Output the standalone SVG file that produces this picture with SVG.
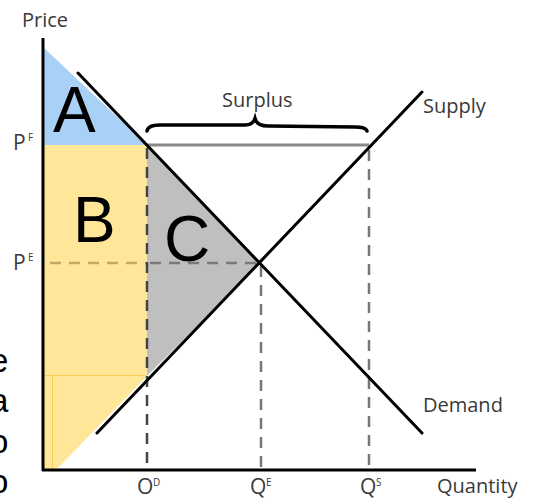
<svg xmlns="http://www.w3.org/2000/svg" width="537" height="499" viewBox="0 0 537 499">
<style>
.lbl{font-family:"Open Sans","Liberation Sans",sans-serif;font-size:20px;fill:#3a3a3a}
.plb{font-family:"Open Sans","Liberation Sans",sans-serif;font-size:21px;fill:#3a3a3a}
.sup{font-family:"Open Sans","Liberation Sans",sans-serif;font-size:10px;fill:#3a3a3a}
.big{font-family:"Liberation Sans",Arial,sans-serif;font-size:64px;fill:#000}
.cut{font-family:"Liberation Sans",Arial,sans-serif;font-size:33px;fill:#000}
.axis{stroke:#000;stroke-width:3;fill:none}
.curve{stroke:#000;stroke-width:3;fill:none;stroke-linecap:round}
.dash{stroke-width:2.5;fill:none;stroke-dasharray:11 8}
</style>
<rect width="537" height="499" fill="#fff"/>
<g id="areas">
  <polygon id="areaA" points="43,47 147,145 43,145" fill="#A9D0F5"/>
  <polygon id="areaB" points="43,145 147,145 147,376 55,471 43,471" fill="#FFE699"/>
  <polygon id="areaC" points="147,145 261,263 147,376" fill="#BFBFBF"/>
  <path d="M43,375.5 H146 M52.5,375 V471" stroke="#F5C842" stroke-width="1" fill="none" opacity="0.8"/>
</g>
<g id="guides">
  <line x1="147" y1="145" x2="369" y2="145" stroke="#8a8a8a" stroke-width="3"/>
  <line x1="50" y1="263" x2="147" y2="263" class="dash" stroke="#BFAA66" stroke-width="3" stroke-dasharray="10 8"/>
  <line x1="150" y1="263" x2="261" y2="263" class="dash" stroke="#7a7a7a" stroke-width="3" stroke-dasharray="10 8"/>
  <line x1="147" y1="148" x2="147" y2="470" class="dash" stroke="#444" stroke-width="2"/>
  <line x1="261" y1="266" x2="261" y2="470" class="dash" stroke="#777" stroke-width="3"/>
  <line x1="369" y1="150" x2="369" y2="470" class="dash" stroke="#777" stroke-width="3"/>
</g>
<g id="curves">
  <line id="demand" x1="78" y1="73" x2="422" y2="433" class="curve"/>
  <line id="supply" x1="97" y1="433" x2="422" y2="92" class="curve"/>
  <path id="brace" d="M147,131 Q148,125 160,125 L245,125 Q253,125 255,118.5 Q257,126 268,126 L355,127 Q366,127 367,131" stroke="#000" stroke-width="3.5" fill="none" stroke-linecap="round"/>
</g>
<g id="axes">
  <line x1="43" y1="38" x2="43" y2="471" class="axis"/>
  <line x1="42" y1="470" x2="476" y2="470" class="axis"/>
</g>
<g id="labels">
  <text class="lbl" x="22" y="27">Price</text>
  <text class="lbl" x="222" y="107">Surplus</text>
  <text class="lbl" x="423" y="113">Supply</text>
  <text class="lbl" x="423" y="412">Demand</text>
  <text class="lbl" x="437" y="493">Quantity</text>
  <text class="plb" x="13" y="150">P</text><text class="sup" x="28" y="141">F</text>
  <text class="plb" x="13" y="270">P</text><text class="sup" x="28" y="261">E</text>
  <text class="plb" x="137" y="494">O</text><text class="sup" x="153" y="486">D</text>
  <text class="plb" x="250" y="494">Q</text><text class="sup" x="266" y="486">E</text>
  <text class="plb" x="360" y="494">Q</text><text class="sup" x="376" y="486">S</text>
</g>
<g id="letters">
  <text class="big" x="53" y="132">A</text>
  <text class="big" x="73" y="242">B</text>
  <text class="big" x="164" y="261">C</text>
</g>
<g id="cutoff">
  <text class="cut" x="-10" y="372">e</text>
  <text class="cut" x="-10" y="412">a</text>
  <text class="cut" x="-10" y="453">o</text>
  <text class="cut" x="-10" y="493">o</text>
</g>
</svg>
